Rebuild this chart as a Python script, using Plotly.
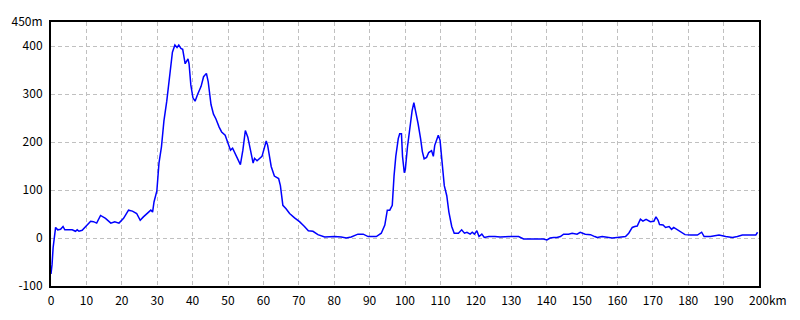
import plotly.graph_objects as go

dist_km = [0, 0.3, 0.6, 0.9, 1.3, 1.9, 2.7, 3.4, 3.9, 6.0, 6.9, 7.4, 7.9, 8.8, 10.1, 11.2, 12.0, 12.9,
           14.0, 15.4, 16.9, 18.0, 19.2, 20.5, 21.9, 23.0, 24.2, 25.2, 26.1, 27.2, 28.2, 28.7, 29.1,
           29.9, 30.5, 31.2, 31.9, 32.7, 33.4, 33.9, 34.3, 35.0, 35.6, 36.1, 36.7, 37.2, 37.9, 38.2,
           38.7, 39.0, 39.5, 40.1, 40.7, 41.4, 42.4, 43.1, 43.9, 44.4, 45.2, 45.9, 46.6, 47.5, 48.2,
           49.2, 49.9, 50.7, 51.3, 52.3, 53.5, 54.2, 54.9, 55.6, 56.5, 57.1, 57.5, 58.2, 59.6, 60.8,
           61.2, 62.2, 63.1, 64.3, 64.8, 65.5, 66.4, 67.4, 68.8, 70.2, 71.6, 72.7, 74.0, 75.4, 77.3,
           80.1, 82.0, 83.4, 84.8, 86.7, 88.2, 89.6, 91.9, 93.3, 94.3, 95.0, 95.7, 96.4, 96.9, 97.4,
           98.1, 98.5, 99.0, 99.3, 99.8, 100.1, 100.7, 101.4, 102.0, 102.5, 103.1, 103.7, 104.4,
           104.9, 105.4, 106.1, 106.7, 107.5, 108.0, 108.4, 109.4, 109.9, 110.5, 111.1, 111.8,
           112.4, 113.2, 113.9, 115.1, 116.0, 116.8, 117.5, 118.4, 119.0, 119.6, 120.3, 120.9,
           121.7, 122.4, 123.7, 125.4, 126.9, 129.7, 132.1, 133.5, 136.8, 139.1, 140.1, 141.0,
           142.0, 142.9, 143.9, 144.8, 146.2, 147.2, 148.6, 149.5, 150.9, 152.4, 153.6, 154.3,
           155.7, 157.6, 158.5, 159.9, 162.3, 163.2, 164.2, 164.9, 165.6, 166.5, 167.2, 168.1,
           169.3, 170.3, 170.9, 171.5, 171.9, 172.9, 173.6, 174.6, 175.3, 175.9, 176.9, 177.8,
           179.1, 180.7, 182.6, 183.8, 184.5, 186.3, 188.7, 190.6, 192.5, 193.9, 195.3, 199.1, 199.6]

elev_m = [-75, -55, -20, 5, 22, 17, 18, 24, 17, 17, 14, 17, 14, 16, 27, 35, 34, 31,
          47, 41, 31, 34, 31, 41, 58, 56, 51, 37, 44, 51, 58, 54, 75,
          98, 156, 190, 244, 285, 326, 367, 387, 402, 397, 402, 395, 393, 363, 367,
          373, 363, 319, 292, 285, 299, 316, 336, 343, 326, 278, 258, 248, 231, 221,
          214, 200, 183, 187, 170, 153, 183, 224, 210, 177, 156, 166, 161, 170, 202,
          193, 149, 129, 124, 109, 68, 61, 51, 42, 34, 24, 15, 14, 7, 2,
          3, 2, 0, 2, 8, 8, 3, 3, 10, 27, 58, 58, 68, 129, 170,
          207, 217, 217, 170, 136, 143, 190, 238, 265, 282, 261, 238, 207,
          180, 165, 168, 178, 182, 170, 193, 214, 204, 156, 109, 88,
          54, 24, 10, 10, 17, 10, 12, 8, 12, 8, 15, 3,
          8, 1, 3, 3, 2, 3, 3, -2, -2, -2, -4, 0,
          1, 1, 3, 8, 8, 10, 8, 12, 8, 7, 3, 1,
          3, 1, 0, 1, 3, 10, 22, 24, 25, 39, 35, 39,
          34, 35, 44, 37, 28, 27, 22, 24, 18, 22, 17, 14,
          7, 6, 6, 12, 3, 3, 6, 3, 1, 3, 6, 6, 12]

x_ticks = list(range(0, 201, 10))
x_labels = [str(v) for v in x_ticks]
y_ticks = [-100, 0, 100, 200, 300, 400, 450]
y_labels = ["-100", "0", "100", "200", "300", "400", "450m"]

FONT = "Noto Sans CJK JP"

fig = go.Figure()
fig.add_trace(go.Scatter(x=dist_km, y=elev_m, mode="lines",
                         line=dict(color="#0000ff", width=1.5), hoverinfo="skip"))

fig.update_layout(
    width=800, height=320,
    margin=dict(l=50, r=41, t=20, b=30),
    paper_bgcolor="white", plot_bgcolor="white",
    showlegend=False,
    font=dict(family=FONT, size=12, color="black"),
    xaxis=dict(range=[0, 200], tickvals=x_ticks, ticktext=x_labels,
               showgrid=True, gridcolor="#c0c0c0", griddash="4px,3px", gridwidth=1,
               showline=True, linecolor="black", linewidth=2, mirror=True,
               ticks="outside", ticklen=3, tickcolor="white", zeroline=False),
    yaxis=dict(range=[-100, 450], tickvals=y_ticks, ticktext=y_labels,
               showgrid=True, gridcolor="#c0c0c0", griddash="4px,3px", gridwidth=1,
               showline=True, linecolor="black", linewidth=2, mirror=True,
               ticks="outside", ticklen=4, tickcolor="white", zeroline=False),
)
fig.add_annotation(x=1, y=0, xref="paper", yref="paper", text="km", showarrow=False,
                   xanchor="left", yanchor="top", xshift=8, yshift=-3,
                   font=dict(family=FONT, size=12, color="black"))

fig.write_html("out.html")
